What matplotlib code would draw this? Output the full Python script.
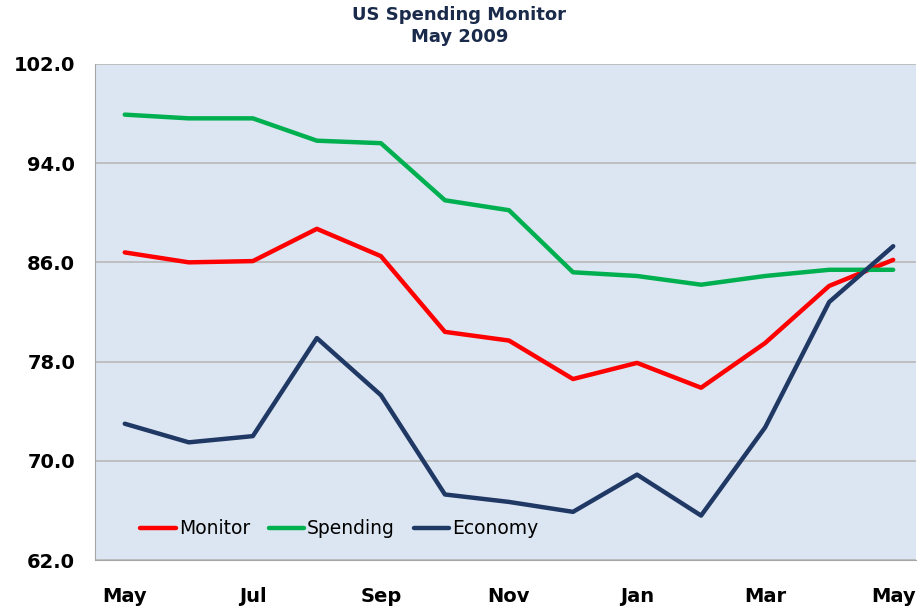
import matplotlib.pyplot as plt
import numpy as np

months = ['May', 'Jun', 'Jul', 'Aug', 'Sep', 'Oct', 'Nov', 'Dec',
          'Jan', 'Feb', 'Mar', 'Apr', 'May']
monitor = [86.8, 86.0, 86.1, 88.7, 86.5, 80.4, 79.7, 76.6, 77.9, 75.9, 79.5, 84.1, 86.2]
spending = [97.9, 97.6, 97.6, 95.8, 95.6, 91.0, 90.2, 85.2, 84.9, 84.2, 84.9, 85.4, 85.4]
economy = [73.0, 71.5, 72.0, 79.9, 75.3, 67.3, 66.7, 65.9, 68.9, 65.6, 72.7, 82.8, 87.3]
y_ticks = [62.0, 70.0, 78.0, 86.0, 94.0, 102.0]

fig = plt.figure(figsize=(9.19, 6.07), dpi=100)
ax = fig.add_axes([0.103, 0.077, 0.894, 0.818])
ax.set_facecolor('#dce6f2')

x = np.arange(len(months))
ax.plot(x, monitor, color='#ff0000', lw=3.2, label='Monitor', solid_capstyle='round')
ax.plot(x, spending, color='#00b050', lw=3.2, label='Spending', solid_capstyle='round')
ax.plot(x, economy, color='#1f3864', lw=3.2, label='Economy', solid_capstyle='round')

ax.set_xlim(-0.47, 12.36)
ax.set_ylim(62, 102)
ax.set_yticks(y_ticks)
ax.set_yticklabels([f'{v:.1f}' for v in y_ticks], fontsize=14, fontweight='heavy')
ax.set_xticks(x[::2])
ax.set_xticklabels(months[::2], fontsize=14, fontweight='heavy')
ax.tick_params(length=0)
ax.tick_params(axis='x', pad=19)
ax.tick_params(axis='y', pad=14)

ax.grid(axis='y', color='#b8b8b8', lw=1.2)
ax.set_axisbelow(True)
for side in ['left', 'bottom', 'top', 'right']:
    ax.spines[side].set_color('#a6a6a6')
ax.spines['top'].set_visible(False)
ax.spines['right'].set_visible(False)

ax.legend(loc='lower left', bbox_to_anchor=(0.035, 0.01), ncol=3, frameon=False,
          fontsize=13.5, handlelength=1.9, columnspacing=1.0, handletextpad=0.15)

fig.text(0.5, 0.99, 'US Spending Monitor\nMay 2009', ha='center', va='top',
         fontsize=13, fontweight='heavy', color='#1a2a4a', linespacing=1.3)

plt.savefig('out.png', dpi=100)
